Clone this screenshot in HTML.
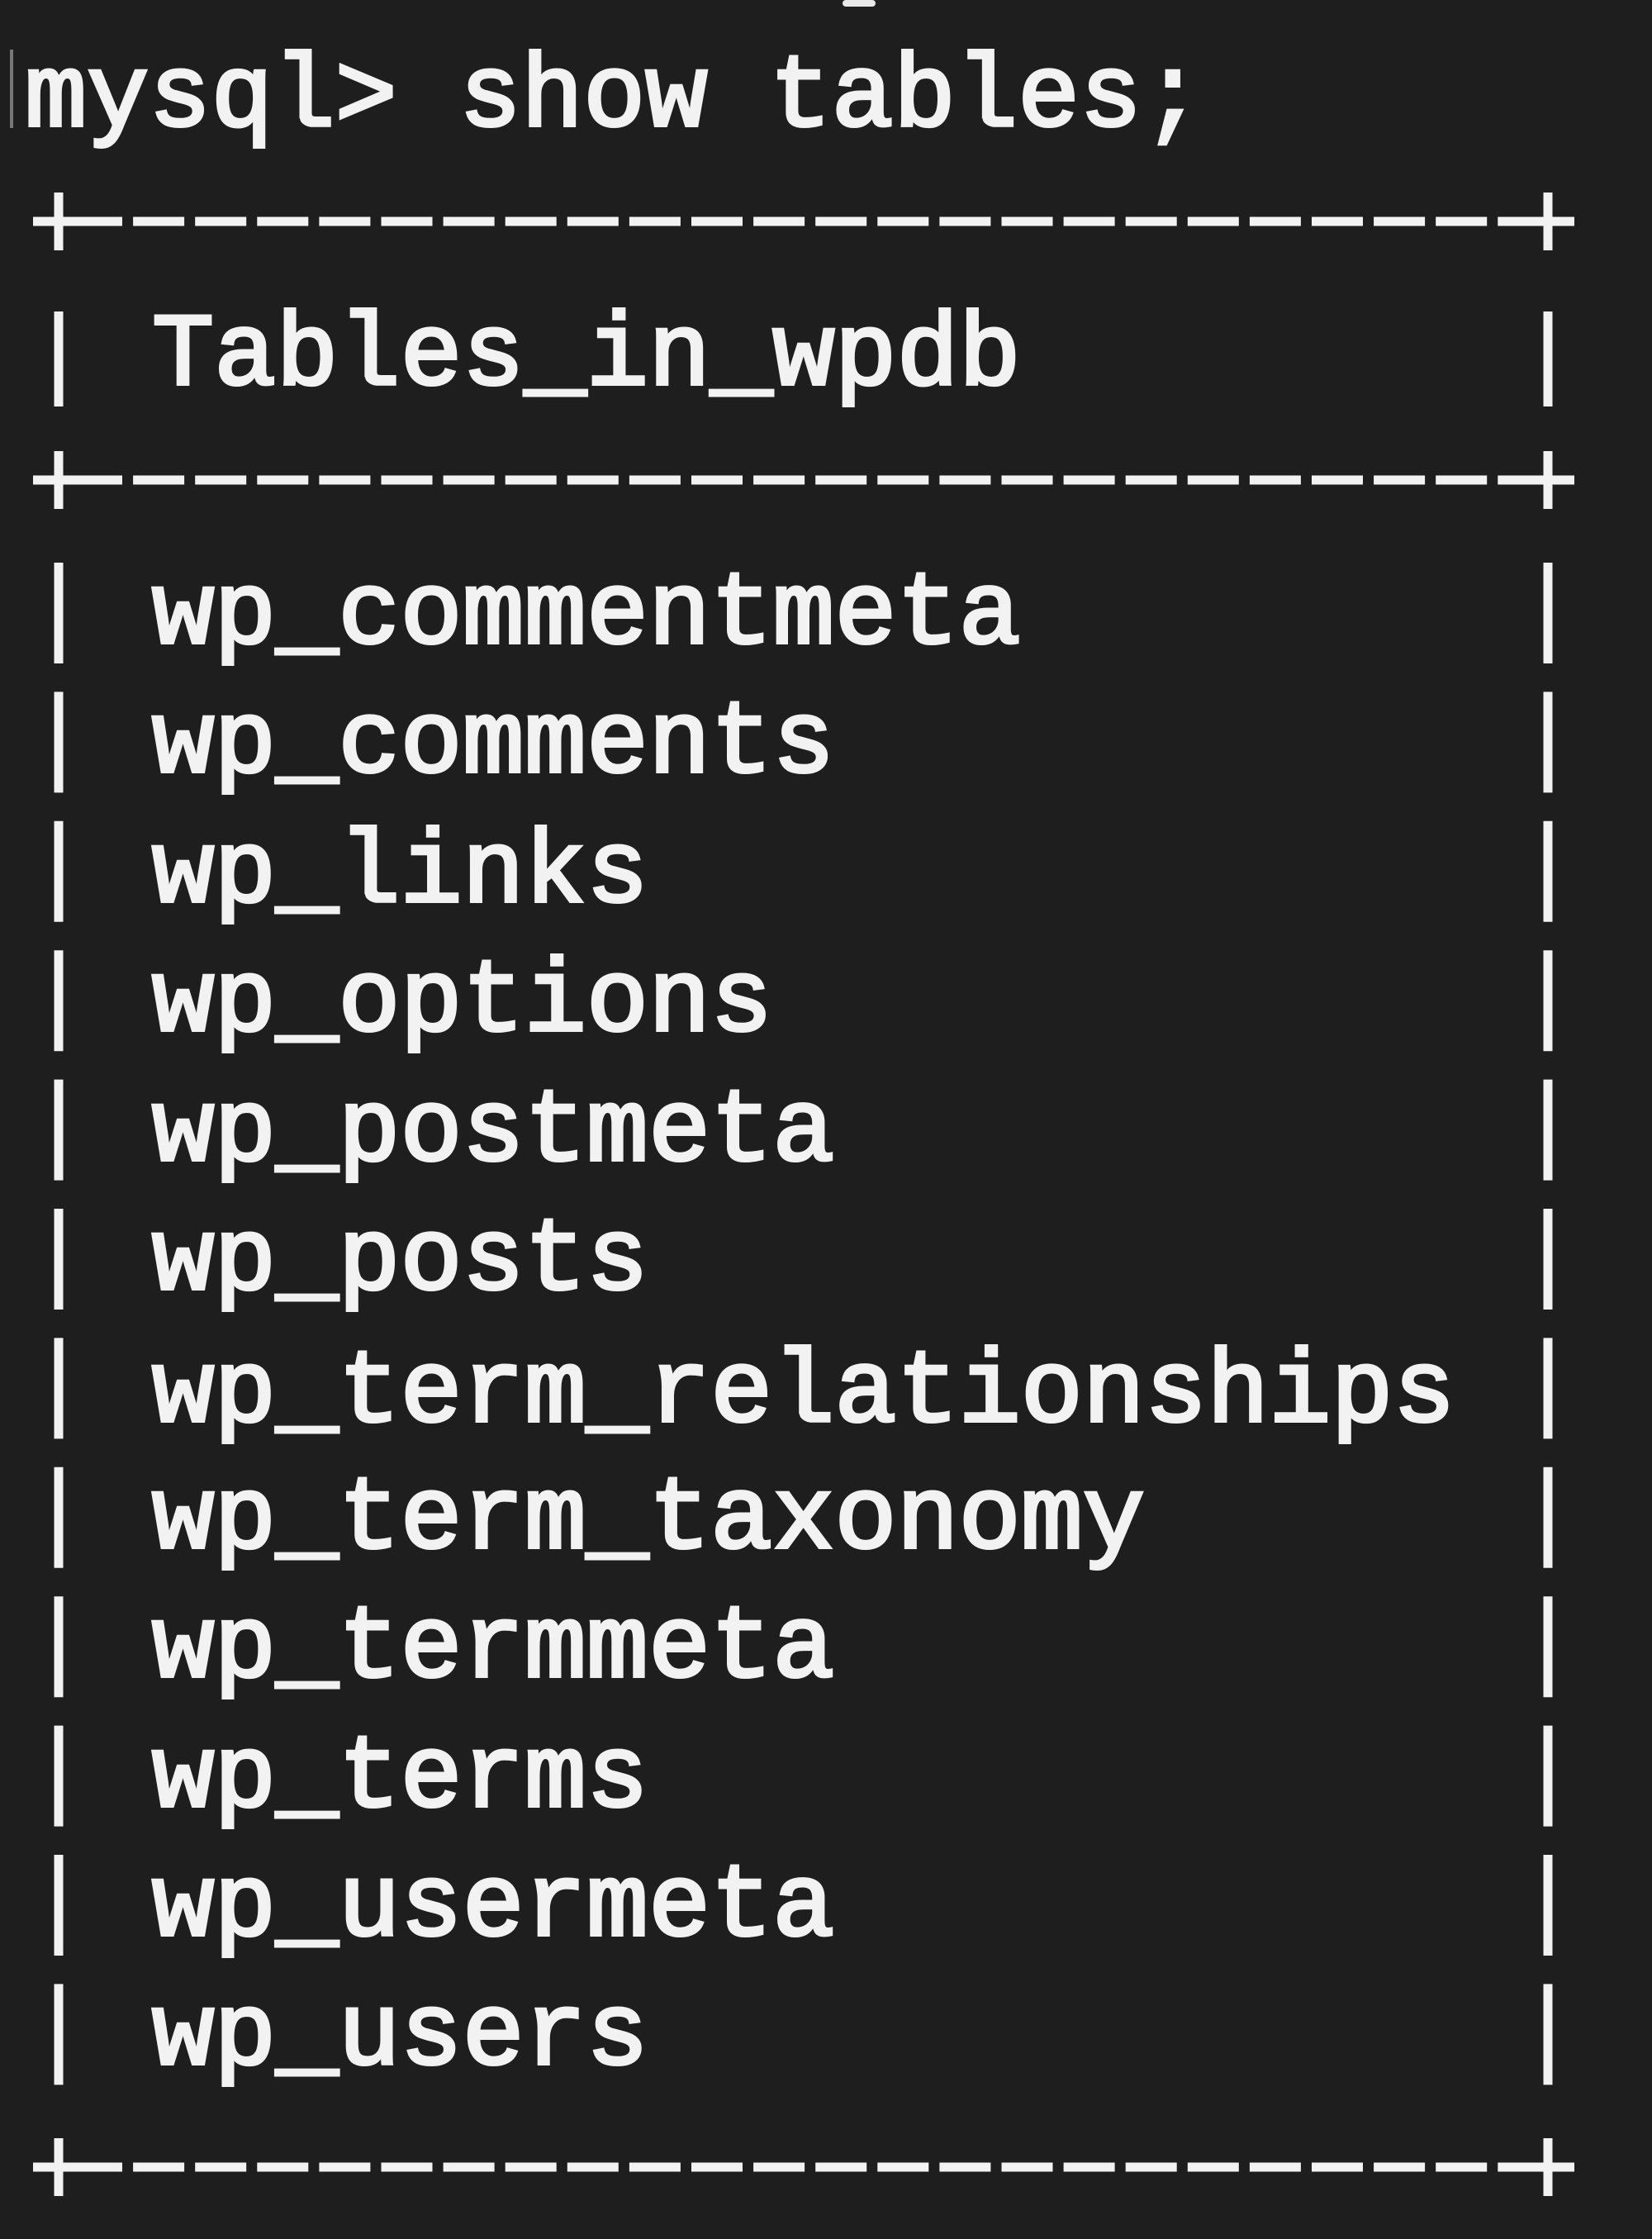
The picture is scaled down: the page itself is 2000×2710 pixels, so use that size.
<!DOCTYPE html>
<html><head><meta charset="utf-8"><style>
html,body{margin:0;padding:0;background:#1e1e1e;}
svg{display:block;}
text{font-family:"Liberation Mono",monospace;font-weight:normal;font-size:125.2px;fill:#f2f2f2;stroke:#f2f2f2;stroke-width:4px;}
</style></head><body>
<svg width="2000" height="2710" viewBox="0 0 2000 2710" xmlns="http://www.w3.org/2000/svg">
<rect width="2000" height="2710" fill="#1e1e1e"/>
<rect x="1020" y="0" width="40" height="8" rx="4" fill="#e8e8e8"/>
<rect x="12" y="60" width="4" height="95" fill="#777"/>
<text x="30" y="152">mysql&gt; show tables;</text>
<g stroke="#f2f2f2" stroke-width="11" fill="none">
  <line x1="80" y1="268" x2="1864" y2="268" stroke-dasharray="62 13.1" stroke-dashoffset="-6"/>
  <line x1="80" y1="581" x2="1864" y2="581" stroke-dasharray="62 13.1" stroke-dashoffset="-6"/>
  <line x1="80" y1="2623" x2="1864" y2="2623" stroke-dasharray="62 13.1" stroke-dashoffset="-6"/>
  <line x1="40" y1="268" x2="104" y2="268"/><line x1="71" y1="233" x2="71" y2="303"/>
  <line x1="1842" y1="268" x2="1906" y2="268"/><line x1="1874" y1="233" x2="1874" y2="303"/>
  <line x1="40" y1="581" x2="104" y2="581"/><line x1="71" y1="546" x2="71" y2="616"/>
  <line x1="1842" y1="581" x2="1906" y2="581"/><line x1="1874" y1="546" x2="1874" y2="616"/>
  <line x1="40" y1="2623" x2="104" y2="2623"/><line x1="71" y1="2588" x2="71" y2="2658"/>
  <line x1="1842" y1="2623" x2="1906" y2="2623"/><line x1="1874" y1="2588" x2="1874" y2="2658"/>
  <line x1="71" y1="377" x2="71" y2="492"/>
  <line x1="1874" y1="377" x2="1874" y2="492"/>
  <line x1="71" y1="681" x2="71" y2="2525" stroke-dasharray="122 34.4"/>
  <line x1="1874" y1="681" x2="1874" y2="2525" stroke-dasharray="122 34.4"/>
</g>
<text x="184" y="465">Tables_in_wpdb</text>
<text x="184" y="778">wp_commentmeta</text>
<text x="184" y="934">wp_comments</text>
<text x="184" y="1091">wp_links</text>
<text x="184" y="1247">wp_options</text>
<text x="184" y="1404">wp_postmeta</text>
<text x="184" y="1560">wp_posts</text>
<text x="184" y="1720">wp_term_relationships</text>
<text x="184" y="1873">wp_term_taxonomy</text>
<text x="184" y="2029">wp_termmeta</text>
<text x="184" y="2186">wp_terms</text>
<text x="184" y="2342">wp_usermeta</text>
<text x="184" y="2498">wp_users</text>
</svg>
</body></html>
